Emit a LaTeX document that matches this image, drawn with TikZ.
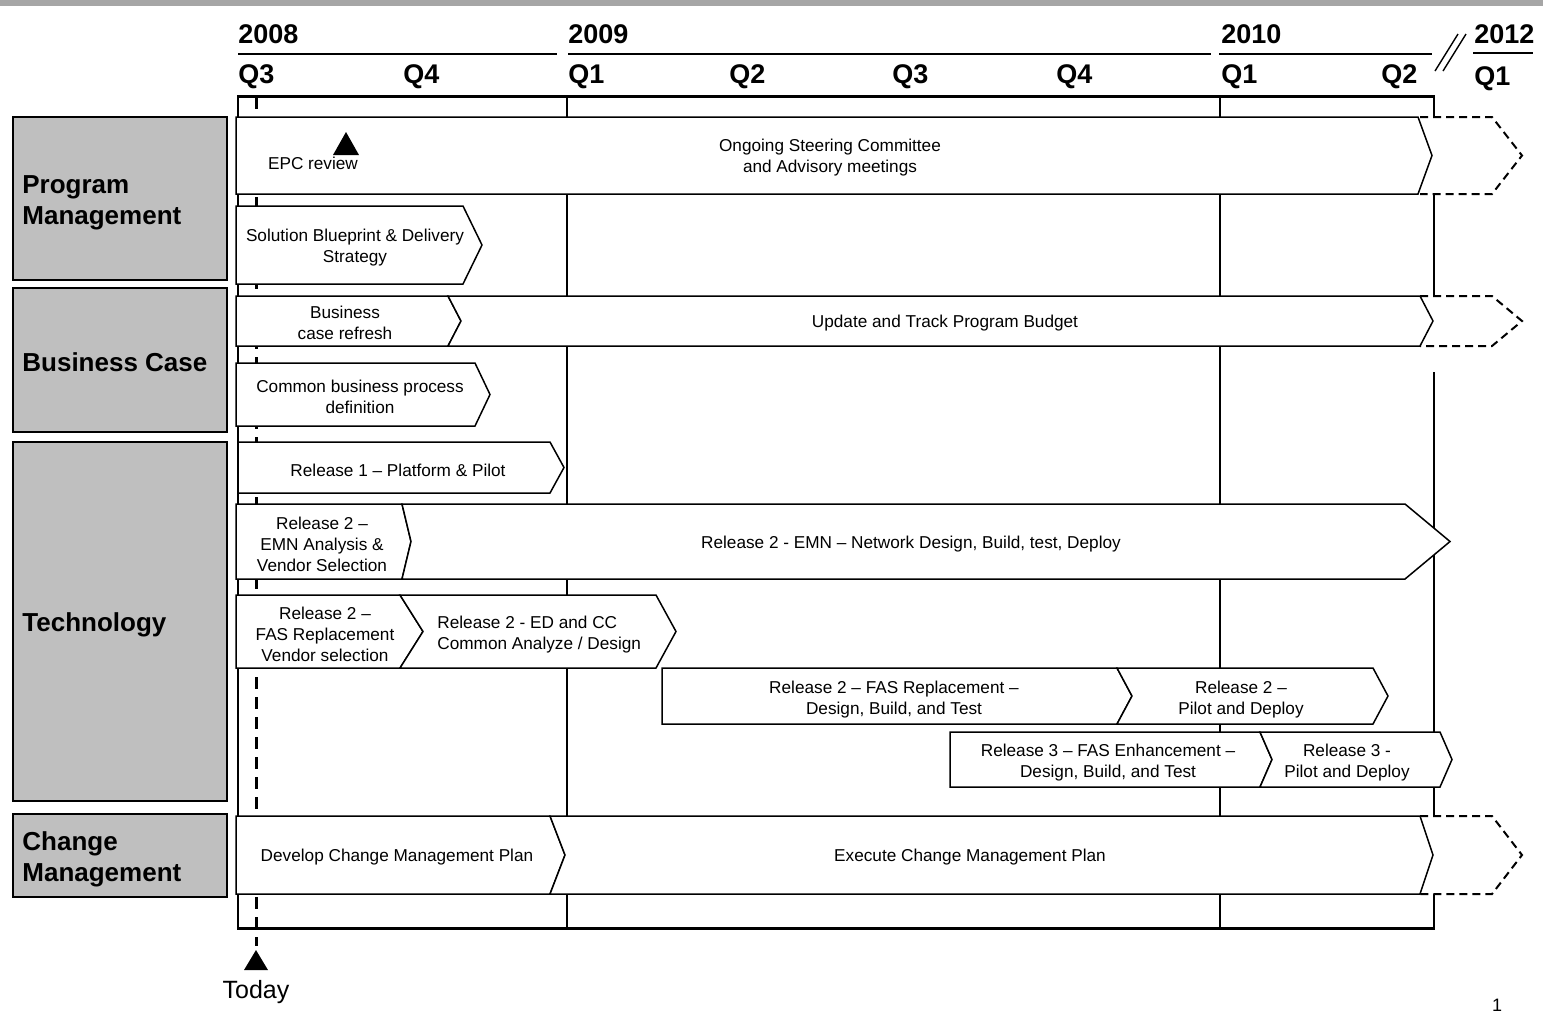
\documentclass[tikz,border=0pt]{standalone}
\usepackage{fontspec}
\setmainfont{Liberation Sans}
\usetikzlibrary{calc}
\newcommand{\chevbar}[6]{%
  \pgfmathsetmacro{\cmid}{(#5+#6)/2}%
  \draw[barline] (#1,#5) -- (#3,#5) -- (#4,\cmid) -- (#3,#6) -- (#1,#6) -- ({#1+#2},\cmid) -- cycle;%
}
\newcommand{\dashext}[3]{%
  \pgfmathsetmacro{\cmid}{(#2+#3)/2}%
  \fill[white] (#1,#2) -- (1492,#2) -- (1522,\cmid) -- (1492,#3) -- (#1,#3) -- cycle;%
  \draw[dashline] (#1,#2) -- (1492,#2) -- (1522,\cmid) -- (1492,#3) -- (#1,#3);%
}
\begin{document}
\begin{tikzpicture}[x=0.5pt,y=-0.5pt,
  barline/.style={draw=black,fill=white,line width=0.75pt,line join=miter},
  dashline/.style={draw=black,line width=1pt,dash pattern=on 4pt off 2.5pt},
  frameline/.style={line width=0.75pt},
  txt/.style={font=\fontsize{8.6}{10.5}\selectfont,align=center,inner sep=0pt,yshift=-1.2pt},
  hdr/.style={font=\fontsize{13.5}{15}\selectfont\bfseries,anchor=west,inner sep=0pt},
  lab/.style={font=\fontsize{13}{15.5}\selectfont\bfseries,align=left,anchor=west,inner sep=0pt},
  labbox/.style={draw=black,line width=0.8pt,fill=black!25}]
\useasboundingbox (0,0) rectangle (1543,1025);
\fill[white] (0,0) rectangle (1543,1025);
% top strip
\fill[black!35] (0,0) rectangle (1543,6);
% header
\node[hdr] (y2008) at (238,34) {2008};
\node[hdr] (y2009) at (568,34) {2009};
\node[hdr] (y2010) at (1221,34) {2010};
\node[hdr] (y2012) at (1474,34) {2012};
\draw[line width=0.8pt] (238,54) -- (557,54);
\draw[line width=0.8pt] (568,54) -- (1211,54);
\draw[line width=0.8pt] (1219,54) -- (1432,54);
\draw[line width=0.8pt] (1473,53) -- (1533,53);
\draw[line width=0.7pt] (1435,71) -- (1458,34);
\draw[line width=0.7pt] (1443,71) -- (1466,34);
\node[hdr] (q1) at (238,77) {Q3};
\node[hdr] (q2) at (403,77) {Q4};
\node[hdr] (q3) at (568,77) {Q1};
\node[hdr] (q4) at (729,77) {Q2};
\node[hdr] (q5) at (892,77) {Q3};
\node[hdr] (q6) at (1056,77) {Q4};
\node[hdr] (q7) at (1221,77) {Q1};
\node[hdr] (q8) at (1381,77) {Q2};
\node[hdr] (q9) at (1474,79) {Q1};
% frame
\draw[frameline] (238,96) -- (238,928);
\draw[frameline] (567,96) -- (567,928);
\draw[frameline] (1220,96) -- (1220,928);
\draw[frameline] (1434,96) -- (1434,117);
\draw[frameline] (1434,194) -- (1434,296);
\draw[frameline] (1434,372) -- (1434,816);
\draw[frameline] (1434,894) -- (1434,928);
\draw[line width=1.5pt] (237,96) -- (1435,96);
\draw[line width=1.5pt] (237,928) -- (1435,928);
% today line
\draw[line width=1.5pt,dash pattern=on 6pt off 4pt] (256,97) -- (256,946);
\fill[black] (244,970) -- (268,970) -- (256,950) -- cycle;
\node[font=\fontsize{12.5}{14}\selectfont,inner sep=0pt] (today) at (256,992) {Today};
% left labels
\draw[labbox] (13,117) rectangle (227,280);
\draw[labbox] (13,288) rectangle (227,432);
\draw[labbox] (13,442) rectangle (227,801);
\draw[labbox] (13,814) rectangle (227,897);
\node[lab] (pm) at (22,203) {Program\\Management};
\node[lab] (bc) at (22,362) {Business Case};
\node[lab] (tech) at (22,625) {Technology};
\node[lab] (cm) at (22,859) {Change\\Management};
% dashed extensions
\dashext{1420}{117}{194}
\dashext{1420}{296}{346}
\dashext{1420}{816}{894}
% bars
\chevbar{236}{0}{1418}{1432}{117}{194}
\chevbar{236}{0}{463}{482}{206}{284}
\chevbar{236}{0}{448}{461}{296}{346}
\chevbar{448}{13}{1420}{1433}{296}{346}
\chevbar{236}{0}{475}{490}{363}{426}
\chevbar{238}{0}{550}{564}{442}{493}
\chevbar{236}{0}{402}{411}{504}{579}
\chevbar{402}{9}{1405}{1450}{504}{579}
\chevbar{236}{0}{400}{423}{595}{668}
\chevbar{400}{23}{656}{676}{595}{668}
\chevbar{662}{0}{1117}{1132}{668}{724}
\chevbar{1117}{15}{1373}{1388}{668}{724}
\chevbar{950}{0}{1260}{1272}{732}{787}
\chevbar{1260}{12}{1440}{1452}{732}{787}
\chevbar{236}{0}{550}{565}{816}{894}
\chevbar{550}{15}{1420}{1433}{816}{894}
% EPC review
\fill[black] (333,155) -- (359,155) -- (346,132) -- cycle;
\node[txt,yshift=1.2pt] (epc) at (313,163) {EPC review};
% bar texts
\node[txt] (steer) at (830,155) {Ongoing Steering Committee\\and Advisory meetings};
\node[txt] (sol) at (355,245) {Solution Blueprint \& Delivery\\Strategy};
\node[txt] (bcr) at (345,320) {Business\\case refresh};
\node[txt] (upd) at (945,321) {Update and Track Program Budget};
\node[txt] (cbp) at (360,394) {Common business process\\definition};
\node[txt] (r1) at (398,468) {Release 1 – Platform \& Pilot};
\node[txt] (emna) at (322,542) {Release 2 –\\EMN Analysis \&\\Vendor Selection};
\node[txt] (emnb) at (911,542) {Release 2 - EMN – Network Design, Build, test, Deploy};
\node[txt] (fasv) at (325,632) {Release 2 –\\FAS Replacement\\Vendor selection};
\node[txt,align=left,anchor=west] (edcc) at (437,632) {Release 2 - ED and CC\\Common Analyze / Design};
\node[txt] (fasd) at (894,697) {Release 2 – FAS Replacement –\\Design, Build, and Test};
\node[txt] (r2p) at (1241,697) {Release 2 –\\Pilot and Deploy};
\node[txt] (r3f) at (1108,760) {Release 3 – FAS Enhancement –\\Design, Build, and Test};
\node[txt] (r3p) at (1347,760) {Release 3 -\\Pilot and Deploy};
\node[txt] (dcm) at (397,855) {Develop Change Management Plan};
\node[txt] (ecm) at (970,855) {Execute Change Management Plan};
\node[font=\fontsize{9}{10}\selectfont,inner sep=0pt] (pg) at (1497,1005) {1};
\end{tikzpicture}
\end{document}
